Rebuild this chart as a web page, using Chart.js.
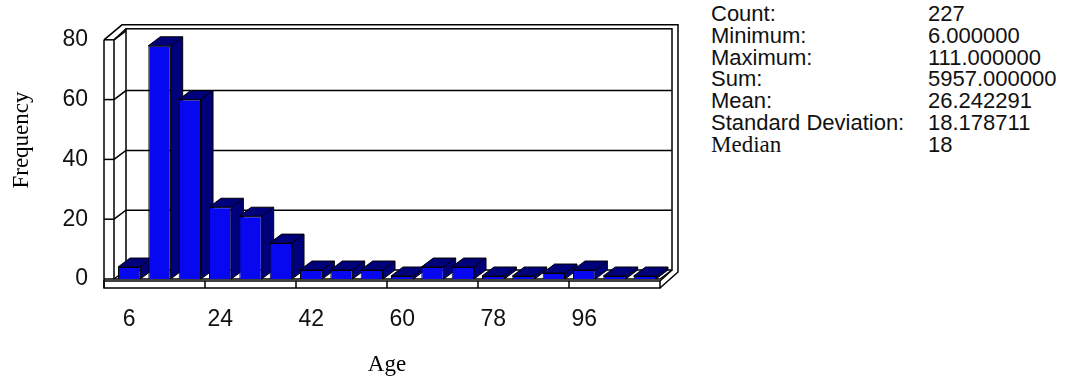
<!DOCTYPE html>
<html>
<head>
<meta charset="utf-8">
<script src="https://cdn.jsdelivr.net/npm/chart.js@4.4.0/dist/chart.umd.min.js"></script>
<style>
  html, body { margin: 0; padding: 0; background: #fff; }
  #wrap { position: relative; width: 1065px; height: 381px; }
  #chartBox { position: absolute; left: 0; top: 0; width: 700px; height: 381px; }
  #stats { position: absolute; left: 711px; top: 3px; font-family: "Liberation Sans", Arial, sans-serif; font-size: 22px; line-height: 21.8px; color: #111; }
  #stats .row { display: flex; }
  #stats .k { width: 217px; }
  #stats .serif { font-family: "Liberation Serif", serif; font-size: 23px; }
</style>
</head>
<body>
<div id="wrap">
  <div id="chartBox"><canvas id="histChart"></canvas></div>
  <div id="stats"></div>
</div>
<script>
// histogram bins (start of each 6-year bin) and counts
const binStarts = [6, 12, 18, 24, 30, 36, 42, 48, 54, 60, 66, 72, 78, 84, 90, 96, 102, 108];
const frequencies = [4, 78, 60, 24, 21, 12, 3, 3, 3, 1, 4, 4, 1, 1, 2, 3, 1, 1];
const shownTicks = [6, 24, 42, 60, 78, 96];
const yTicks = [0, 20, 40, 60, 80];

const statLabels = ['Count:', 'Minimum:', 'Maximum:', 'Sum:', 'Mean:', 'Standard Deviation:', 'Median'];
const statValues = ['227', '6.000000', '111.000000', '5957.000000', '26.242291', '18.178711', '18'];

// stats table on the right
const statsEl = document.getElementById('stats');
statLabels.forEach((lab, i) => {
  const row = document.createElement('div');
  row.className = 'row';
  const k = document.createElement('div');
  k.className = 'k' + (lab === 'Median' ? ' serif' : '');
  k.textContent = lab;
  const v = document.createElement('div');
  v.textContent = statValues[i];
  row.appendChild(k);
  row.appendChild(v);
  statsEl.appendChild(row);
});

// depth of the fake 3D look
const DX = 12, DY = -9;

// draws the walls, floor and the top/side faces of the bars
const box3d = {
  id: 'box3d',
  beforeDatasetsDraw(chart) {
    const { ctx, chartArea: a, scales } = chart;
    const xs = scales.x, ys = scales.y;
    const L = a.left, R = a.right, T = a.top, B = a.bottom;
    ctx.save();
    ctx.strokeStyle = '#000';
    ctx.lineWidth = 1.5;

    // back wall
    ctx.strokeRect(L + DX, T + DY - 2, R - L, B - T + 2);
    // outer edge of the box
    ctx.beginPath();
    ctx.moveTo(L - 10, T);
    ctx.lineTo(L + DX - 4, T + DY - 6);
    ctx.lineTo(R + DX + 6, T + DY - 6);
    ctx.lineTo(R + DX + 6, B + DY + 2);
    ctx.lineTo(R, B + 9);
    ctx.stroke();
    // front edge of the left wall
    ctx.beginPath();
    ctx.moveTo(L + DX, T + DY - 2);
    ctx.lineTo(L, T);
    ctx.lineTo(L, B);
    ctx.stroke();

    // grid lines on back wall + left wall
    yTicks.forEach(v => {
      const py = ys.getPixelForValue(v);
      ctx.beginPath();
      ctx.moveTo(L, py);
      ctx.lineTo(L + DX, py + DY);
      if (v > 0 && v < 80) ctx.lineTo(R + DX, py + DY);
      ctx.stroke();
      // y axis tick
      ctx.beginPath();
      ctx.moveTo(L - 10, py);
      ctx.lineTo(L, py);
      ctx.stroke();
    });
    // y axis line
    ctx.beginPath();
    ctx.moveTo(L - 10, T);
    ctx.lineTo(L - 10, B + 9);
    ctx.stroke();

    // floor
    ctx.beginPath();
    ctx.moveTo(L, B);
    ctx.lineTo(R, B);
    ctx.lineTo(R + DX, B + DY);
    ctx.stroke();
    // floor front band
    ctx.strokeRect(L - 10, B + 2, R - L + 10, 7);
    ctx.beginPath();
    ctx.moveTo(R, B + 2);
    ctx.lineTo(R + DX, B + DY);
    ctx.stroke();
    for (let k = 3; k < binStarts.length; k += 3) {
      const bx = (xs.getPixelForValue(k - 1) + xs.getPixelForValue(k)) / 2;
      ctx.beginPath();
      ctx.moveTo(bx, B + 2);
      ctx.lineTo(bx, B + 9);
      ctx.stroke();
    }

    // bar depth faces, left to right
    ctx.lineWidth = 1;
    const meta = chart.getDatasetMeta(0);
    meta.data.forEach(bar => {
      const p = bar.getProps(['x', 'y', 'base', 'width'], true);
      const x0 = p.x - p.width / 2, x1 = p.x + p.width / 2;
      ctx.fillStyle = '#00007a';
      ctx.beginPath();
      ctx.moveTo(x0, p.y);
      ctx.lineTo(x0 + DX, p.y + DY);
      ctx.lineTo(x1 + DX, p.y + DY);
      ctx.lineTo(x1 + DX, p.base + DY);
      ctx.lineTo(x1, p.base);
      ctx.lineTo(x1, p.y);
      ctx.closePath();
      ctx.fill();
      ctx.stroke();
      ctx.beginPath();
      ctx.moveTo(x1, p.y);
      ctx.lineTo(x1 + DX, p.y + DY);
      ctx.stroke();
    });
    ctx.restore();
  },
  afterDraw(chart) {
    const { ctx } = chart;
    ctx.save();
    ctx.font = '23px "Liberation Serif", serif';
    ctx.fillStyle = '#000';
    ctx.textAlign = 'center';
    ctx.textBaseline = 'middle';
    ctx.translate(22, 140);
    ctx.rotate(-Math.PI / 2);
    ctx.fillText('Frequency', 0, 0);
    ctx.restore();
  }
};

const ctx = document.getElementById('histChart').getContext('2d');
new Chart(ctx, {
  type: 'bar',
  data: {
    labels: binStarts,
    datasets: [{
      label: 'Age',
      data: frequencies,
      backgroundColor: '#0808f0',
      borderColor: '#000',
      borderWidth: 1,
      barPercentage: 0.82,
      categoryPercentage: 0.9,
    }]
  },
  options: {
    responsive: true,
    maintainAspectRatio: false,
    animation: false,
    layout: { padding: { left: 0, right: 40, top: 28, bottom: 0 } },
    plugins: {
      legend: { display: false },
      tooltip: { enabled: false },
    },
    scales: {
      x: {
        grid: { display: false, drawTicks: false },
        border: { display: false },
        ticks: {
          autoSkip: false,
          maxRotation: 0,
          padding: 27,
          color: '#111',
          font: { family: '"Liberation Sans", Arial, sans-serif', size: 23 },
          callback: (val, i) => shownTicks.includes(binStarts[i]) ? String(binStarts[i]) : '',
        },
        title: {
          display: true,
          text: 'Age',
          color: '#000',
          font: { family: '"Liberation Serif", serif', size: 23 },
          padding: { top: 0, bottom: 2 },
        },
        afterFit: (scale) => { scale.height = 102; },
      },
      y: {
        min: 0,
        max: 80,
        grid: { display: false, drawTicks: false },
        border: { display: false },
        ticks: {
          stepSize: 20,
          padding: 26,
          color: '#111',
          font: { family: '"Liberation Sans", Arial, sans-serif', size: 23 },
        },
        afterFit: (scale) => { scale.width = 114; },
      }
    }
  },
  plugins: [box3d]
});
</script>
</body>
</html>
